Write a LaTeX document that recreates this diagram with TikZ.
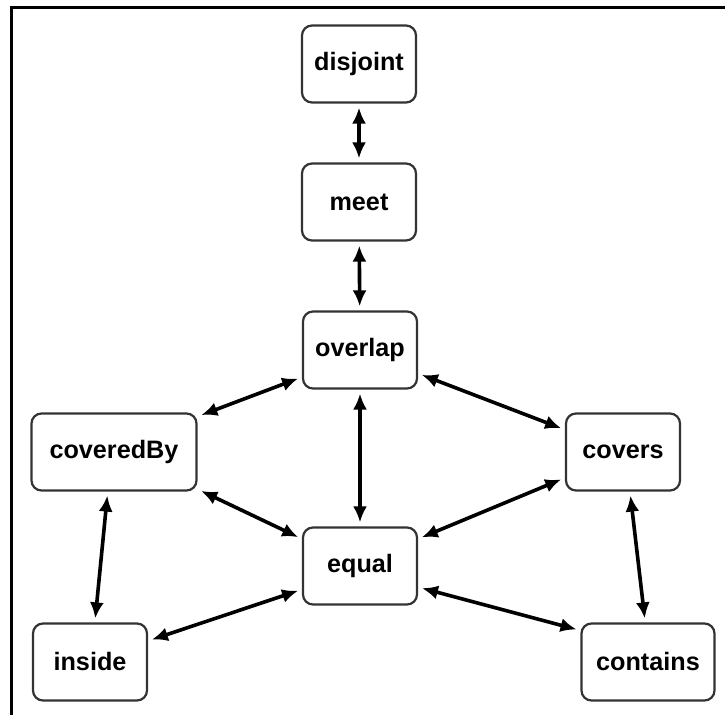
\documentclass[tikz,border=0pt]{standalone}
\usepackage{fontspec}
\setmainfont{Liberation Sans}
\usepackage{tikz}
\usetikzlibrary{arrows.meta}

\begin{document}
\begin{tikzpicture}[x=0.5pt,y=-0.5pt]
\tikzstyle{rel} = [draw=black!80,line width=1.1pt,rounded corners=5pt,minimum width=57pt,minimum height=38.5pt,font=\fontsize{12.6}{15}\selectfont\bfseries]
\tikzstyle{link} = [line width=1.8pt,{Latex[length=8pt,width=7pt]}-{Latex[length=8pt,width=7pt]},shorten <=2pt,shorten >=2pt]

\useasboundingbox (0,0) rectangle (725,715);
\draw[line width=1.7pt] (725,7.5) -- (11.7,7.5) -- (11.7,715);

\node[rel] (disjoint) at (359,64) {disjoint};
\node[rel] (meet) at (359,202) {meet};
\node[rel] (overlap) at (360,350) {overlap};
\node[rel,minimum width=82.5pt] (coveredBy) at (114,452) {coveredBy};
\node[rel] (covers) at (623,452) {covers};
\node[rel] (equal) at (360,566) {equal};
\node[rel] (inside) at (90,662) {inside};
\node[rel,minimum width=66.5pt] (contains) at (648,662) {contains};

\draw[link] (disjoint) -- (meet);
\draw[link] (meet) -- (overlap);
\draw[link] (overlap) -- (equal);
\draw[link] (overlap.205) -- (coveredBy.23);
\draw[link] (overlap.338) -- (covers.159);
\draw[link] (coveredBy.336) -- (equal.155);
\draw[link] (covers.204) -- (equal.25);
\draw[link] (equal.202) -- (inside.20);
\draw[link] (equal.340) -- (contains.155);
\draw[link] (coveredBy.261) -- (inside.83);
\draw[link] (covers.280) -- (contains.94);
\end{tikzpicture}
\end{document}
